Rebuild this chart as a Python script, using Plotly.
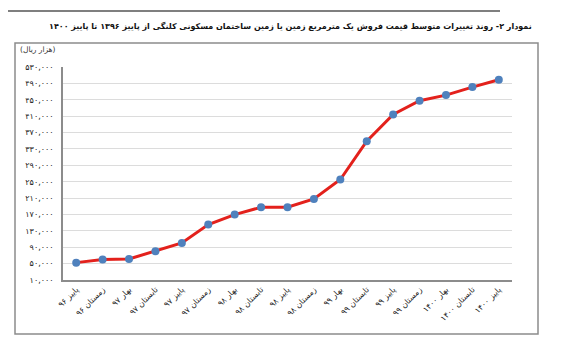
import plotly.graph_objects as go

categories = ["پاییز ۹۶", "زمستان ۹۶", "بهار ۹۷", "تابستان ۹۷", "پاییز ۹۷", "زمستان ۹۷",
              "بهار ۹۸", "تابستان ۹۸", "پاییز ۹۸", "زمستان ۹۸", "بهار ۹۹", "تابستان ۹۹",
              "پاییز ۹۹", "زمستان ۹۹", "بهار ۱۴۰۰", "تابستان ۱۴۰۰", "پاییز ۱۴۰۰"]
values = [52400, 59800, 61400, 80100, 100500, 145300, 169700, 187700, 187700, 208000,
          255300, 349000, 414000, 447500, 461400, 481000, 499000]
ytick_vals = [10000, 50000, 90000, 130000, 170000, 210000, 250000, 290000, 330000,
              370000, 410000, 450000, 490000, 530000]
ytick_text = ["۱۰,۰۰۰", "۵۰,۰۰۰", "۹۰,۰۰۰", "۱۳۰,۰۰۰", "۱۷۰,۰۰۰", "۲۱۰,۰۰۰", "۲۵۰,۰۰۰",
              "۲۹۰,۰۰۰", "۳۳۰,۰۰۰", "۳۷۰,۰۰۰", "۴۱۰,۰۰۰", "۴۵۰,۰۰۰", "۴۹۰,۰۰۰", "۵۳۰,۰۰۰"]
title_text = "نمودار ۲-\u200f روند تغییرات متوسط قیمت فروش یک مترمربع زمین یا زمین ساختمان مسکونی کلنگی از پاییز ۱۳۹۶ تا پاییز ۱۴۰۰"
unit_text = "(هزار ریال)"

FONT = "DejaVu Sans"
RLE, PDF = "\u202b", "\u202c"

fig = go.Figure()
fig.add_trace(go.Scatter(
    x=categories, y=values, mode="lines+markers",
    line=dict(color="#e3211c", width=3),
    marker=dict(color="#4f81bd", size=8),
    showlegend=False, cliponaxis=False,
))

OFF = 8  # default page body margin
W, H = 565, 347
L, R, T, B = 55, 61, 59, 75
pw, ph = W - L - R, H - T - B

def px(x):
    return (x - OFF - L) / pw

def py(y):
    return (H - B - (y - OFF)) / ph

fig.update_layout(
    width=W, height=H,
    margin=dict(l=L, r=R, t=T, b=B),
    paper_bgcolor="white", plot_bgcolor="white",
    font=dict(family=FONT, color="#333333", size=8),
    xaxis=dict(
        type="category", range=[-0.5, len(categories) - 0.5],
        showline=True, linecolor="#8c8c8c", linewidth=1.5,
        showgrid=False, ticks="", tickangle=-45,
        tickfont=dict(size=8, family=FONT, color="#222222"),
        fixedrange=True,
    ),
    yaxis=dict(
        range=[10000, 530000], tickmode="array",
        tickvals=ytick_vals, ticktext=ytick_text,
        showline=True, linecolor="#8c8c8c", linewidth=1.5,
        showgrid=True, gridcolor="#dcdcdc", gridwidth=1,
        zeroline=False, ticks="", ticklabelstandoff=6,
        tickfont=dict(size=8, family=FONT, color="#222222"),
        fixedrange=True,
    ),
    shapes=[
        dict(type="rect", xref="paper", yref="paper",
             x0=px(15), x1=px(538), y0=py(334), y1=py(43),
             line=dict(color="#8c8c8c", width=1.5), fillcolor="rgba(0,0,0,0)", layer="below"),
        dict(type="line", xref="paper", yref="paper",
             x0=px(8), x1=px(500), y0=py(11), y1=py(11),
             line=dict(color="#555555", width=1.5)),
    ],
    annotations=[
        dict(text="<b>" + RLE + title_text + PDF + "</b>", xref="paper", yref="paper",
             x=px(290), y=py(26), xanchor="center", yanchor="middle",
             showarrow=False, font=dict(size=8, family=FONT, color="#111111")),
        dict(text=RLE + unit_text + PDF, xref="paper", yref="paper",
             x=px(18), y=py(50), xanchor="left", yanchor="middle",
             showarrow=False, font=dict(size=7.5, family=FONT, color="#333333")),
    ],
)

fig.write_html("out.html")
